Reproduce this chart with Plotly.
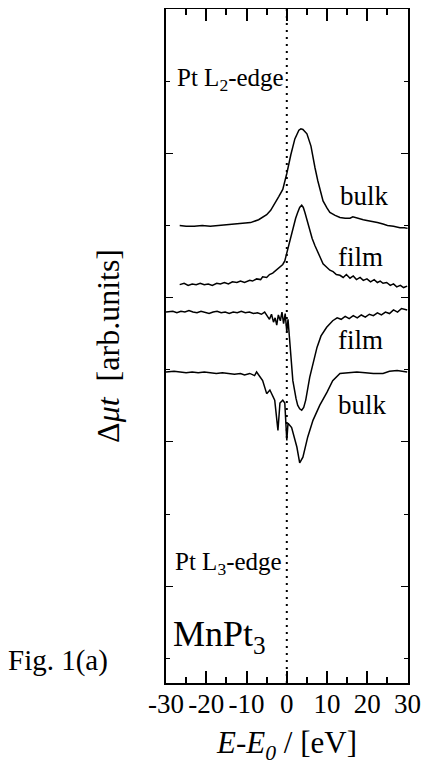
import plotly.graph_objects as go

# ---------------- data ----------------
# Pt L2-edge, bulk
e_l2_bulk = [-26.6, -25, -23, -21, -19, -17, -15, -13, -11, -9, -7, -6, -5, -4, -3, -2, -1, -0.5, 0, 1, 2, 3, 3.5, 4,
             5, 6, 6.5, 7, 7.7, 8.5, 9, 10, 10.7, 12, 13.2, 14.5, 15.7, 16.4, 17.5, 19, 19.9, 21, 22.5, 23.9, 25,
             26.5, 28.1, 29.2, 30]
mu_l2_bulk = [6.00, 5.99, 5.99, 6.00, 5.99, 6.00, 6.01, 6.02, 6.03, 6.04, 6.08, 6.11, 6.15, 6.21, 6.30, 6.40, 6.50,
              6.60, 6.72, 6.98, 7.20, 7.32, 7.34, 7.33, 7.27, 7.10, 6.94, 6.80, 6.62, 6.44, 6.34, 6.24, 6.18, 6.14,
              6.11, 6.10, 6.10, 6.12, 6.10, 6.08, 6.07, 6.06, 6.04, 6.02, 6.00, 5.99, 5.97, 5.97, 5.96]

# Pt L2-edge, film
e_l2_film = [-26.6, -25.5, -24.5, -23.5, -22.5, -21.5, -20.5, -19.5, -18.5, -17.4, -16.5, -15.5, -14.5, -13.5,
             -12.4, -11.5, -10.5, -9.2, -8.5, -7.5, -6.5, -6, -5, -4.3, -3.5, -2.7, -1.7, -1, -0.5, 0.25, 0.8, 1.5,
             2.2, 2.7, 3.2, 3.7, 4.1, 4.5, 5.1, 5.7, 6.3, 7, 7.5, 8.2, 9, 9.8, 10.7, 11.5, 12.3, 13.2, 14, 14.8,
             15.7, 16.5, 17.3, 18.2, 19, 19.9, 20.8, 21.7, 22.5, 23.2, 23.9, 24.8, 25.7, 26.5, 27.3, 28.2, 29, 29.9]
mu_l2_film = [5.18, 5.20, 5.17, 5.19, 5.18, 5.20, 5.18, 5.19, 5.17, 5.20, 5.19, 5.21, 5.19, 5.22, 5.21, 5.23, 5.21,
              5.24, 5.23, 5.26, 5.25, 5.29, 5.28, 5.32, 5.34, 5.38, 5.42, 5.46, 5.51, 5.68, 5.82, 5.97, 6.10, 6.18,
              6.25, 6.28, 6.25, 6.18, 6.05, 5.93, 5.82, 5.72, 5.65, 5.57, 5.47, 5.43, 5.38, 5.36, 5.32, 5.31, 5.28,
              5.32, 5.27, 5.30, 5.25, 5.28, 5.24, 5.26, 5.22, 5.25, 5.21, 5.23, 5.20, 5.21, 5.17, 5.19, 5.15, 5.17,
              5.14, 5.16]

# Pt L3-edge, film
e_l3_film = [-30, -28.3, -27.3, -26.3, -25.3, -24.3, -23.3, -22.3, -21.3, -20.3, -19.3, -18.3, -17.3, -16.3,
             -15.3, -14.3, -13.3, -12.3, -11.3, -10.3, -9.3, -8.3, -7.3, -6.3, -5.5, -4.8, -4.3, -3.8, -3.3, -2.9,
             -2.5, -2.1, -1.6, -1.2, -0.8, -0.4, 0, 0.3, 0.6, 1.0, 1.5, 2.3, 2.7, 3.2, 3.7, 4.2, 4.7, 5.7, 6.7, 7.5,
             8.5, 9.9, 11.4, 12.5, 13.5, 14.5, 15.5, 16.5, 17.5, 18.5, 19.5, 20.5, 21.5, 22.5, 23.5, 24.5, 25.5,
             26.5, 27.5, 28.5, 29.9]
mu_l3_film = [4.80, 4.81, 4.79, 4.81, 4.80, 4.82, 4.80, 4.79, 4.81, 4.80, 4.78, 4.80, 4.81, 4.79, 4.80, 4.78, 4.80,
              4.79, 4.81, 4.79, 4.80, 4.78, 4.79, 4.77, 4.80, 4.74, 4.70, 4.77, 4.66, 4.72, 4.62, 4.76, 4.68, 4.80,
              4.64, 4.78, 4.52, 4.70, 4.45, 4.20, 3.85, 3.60, 3.51, 3.46, 3.44, 3.48, 3.58, 3.90, 4.15, 4.31, 4.47,
              4.59, 4.68, 4.72, 4.70, 4.74, 4.71, 4.75, 4.72, 4.76, 4.73, 4.77, 4.75, 4.79, 4.76, 4.80, 4.78, 4.83,
              4.80, 4.85, 4.83]

# Pt L3-edge, bulk
e_l3_bulk = [-30, -28, -26.5, -25, -23.5, -22, -20.5, -19, -17.5, -16, -14.5, -13, -11.5, -10.5, -9.2, -8, -7.5,
             -6.7, -6, -5, -4.2, -3, -2.6, -2.2, -1.7, -1, -0.5, 0, 0.3, 1.2, 2.5, 3.2, 4, 5.2, 6.5, 8.2, 10, 11.4,
             13.2, 15, 17.4, 19.5, 21.5, 23.9, 25.5, 27.4, 29.9]
mu_l3_bulk = [3.97, 3.98, 3.97, 3.96, 3.97, 3.96, 3.97, 3.96, 3.95, 3.96, 3.95, 3.94, 3.95, 3.93, 3.95, 3.92, 3.97,
              3.90, 3.85, 3.67, 3.72, 3.58, 3.40, 3.16, 3.54, 3.58, 3.54, 3.02, 3.26, 3.20, 2.93, 2.71, 2.79, 3.07,
              3.30, 3.51, 3.69, 3.85, 3.95, 3.96, 3.97, 3.96, 3.95, 3.95, 3.98, 3.99, 3.97]

x_tickvals = [-30, -20, -10, 0, 10, 20, 30]
x_ticktext = ["-30", "-20", "-10", "0", "10", "20", "30"]

curve_labels = [
    ("bulk", 19.4, 6.41),
    ("film", 18.2, 5.57),
    ("film", 18.2, 4.42),
    ("bulk", 18.9, 3.51),
]

FONT = "Liberation Serif, Times New Roman, serif"
BLACK = "black"

fig = go.Figure()
for xs, ys in [(e_l2_bulk, mu_l2_bulk), (e_l2_film, mu_l2_film), (e_l3_film, mu_l3_film), (e_l3_bulk, mu_l3_bulk)]:
    fig.add_trace(go.Scatter(x=xs, y=ys, mode="lines", line=dict(color=BLACK, width=1.5),
                             showlegend=False, hoverinfo="skip"))

fig.add_shape(type="line", xref="x", yref="paper", x0=0, x1=0, y0=0, y1=1,
              line=dict(color=BLACK, width=2, dash="2px,5px"))

annotations = []
for txt, ex, yv in curve_labels:
    annotations.append(dict(x=ex, y=yv, xref="x", yref="y", text=txt, showarrow=False,
                            xanchor="center", yanchor="middle", font=dict(family=FONT, size=27, color=BLACK)))

annotations += [
    dict(x=-27.8, y=8.03, xref="x", yref="y", text="Pt L<sub>2</sub>-edge", showarrow=False,
         xanchor="left", yanchor="middle", font=dict(family=FONT, size=25, color=BLACK)),
    dict(x=-28.3, y=1.32, xref="x", yref="y", text="Pt L<sub>3</sub>-edge", showarrow=False,
         xanchor="left", yanchor="middle", font=dict(family=FONT, size=25, color=BLACK)),
    dict(x=-28.8, y=0.30, xref="x", yref="y", text="MnPt<sub>3</sub>", showarrow=False,
         xanchor="left", yanchor="middle", font=dict(family=FONT, size=36, color=BLACK)),
    dict(x=0, y=-0.06, xref="x", yref="paper", text="<i>E</i>-<i>E</i><sub><i>0</i></sub> / [eV]",
         showarrow=False, xanchor="center", yanchor="top", font=dict(family=FONT, size=31, color=BLACK)),
    dict(x=-0.24, y=0.50, xref="paper", yref="paper", text="Δ<i>μt</i>  [arb.units]", textangle=-90,
         showarrow=False, xanchor="center", yanchor="middle", font=dict(family=FONT, size=32, color=BLACK)),
    dict(x=-0.448, y=0.033, xref="paper", yref="paper", text="Fig. 1(a)", showarrow=False,
         xanchor="center", yanchor="middle", font=dict(family=FONT, size=29, color=BLACK)),
]

# The page body has an 8px default margin, so the figure is sized and
# offset to land the plot frame where the reference has it.
fig.update_layout(
    width=427, height=758,
    margin=dict(l=158, r=27, t=1, b=83, pad=0),
    paper_bgcolor="white", plot_bgcolor="white",
    showlegend=False,
    annotations=annotations,
    font=dict(family=FONT, color=BLACK),
)
fig.update_xaxes(range=[-30, 30.1], tickvals=x_tickvals, ticktext=x_ticktext, automargin=False,
                 ticks="inside", ticklen=12, tickwidth=1.5, tickcolor=BLACK, ticklabelstandoff=-4,
                 minor=dict(dtick=5, tick0=0, ticks="inside", ticklen=6, tickwidth=1.5, tickcolor=BLACK),
                 showline=True, linecolor=BLACK, linewidth=1.5, mirror="ticks",
                 showgrid=False, zeroline=False, tickfont=dict(family=FONT, size=27, color=BLACK))
fig.update_yaxes(range=[-0.34, 9], tickvals=[1, 3, 5, 7], ticks="inside", ticklen=7, tickwidth=1.2,
                 tickcolor=BLACK, showticklabels=False, automargin=False,
                 minor=dict(dtick=1, tick0=0, ticks="inside", ticklen=4, tickwidth=1, tickcolor=BLACK),
                 showline=True, linecolor=BLACK, linewidth=1.5, mirror="ticks",
                 showgrid=False, zeroline=False)

fig.write_html("out.html")
